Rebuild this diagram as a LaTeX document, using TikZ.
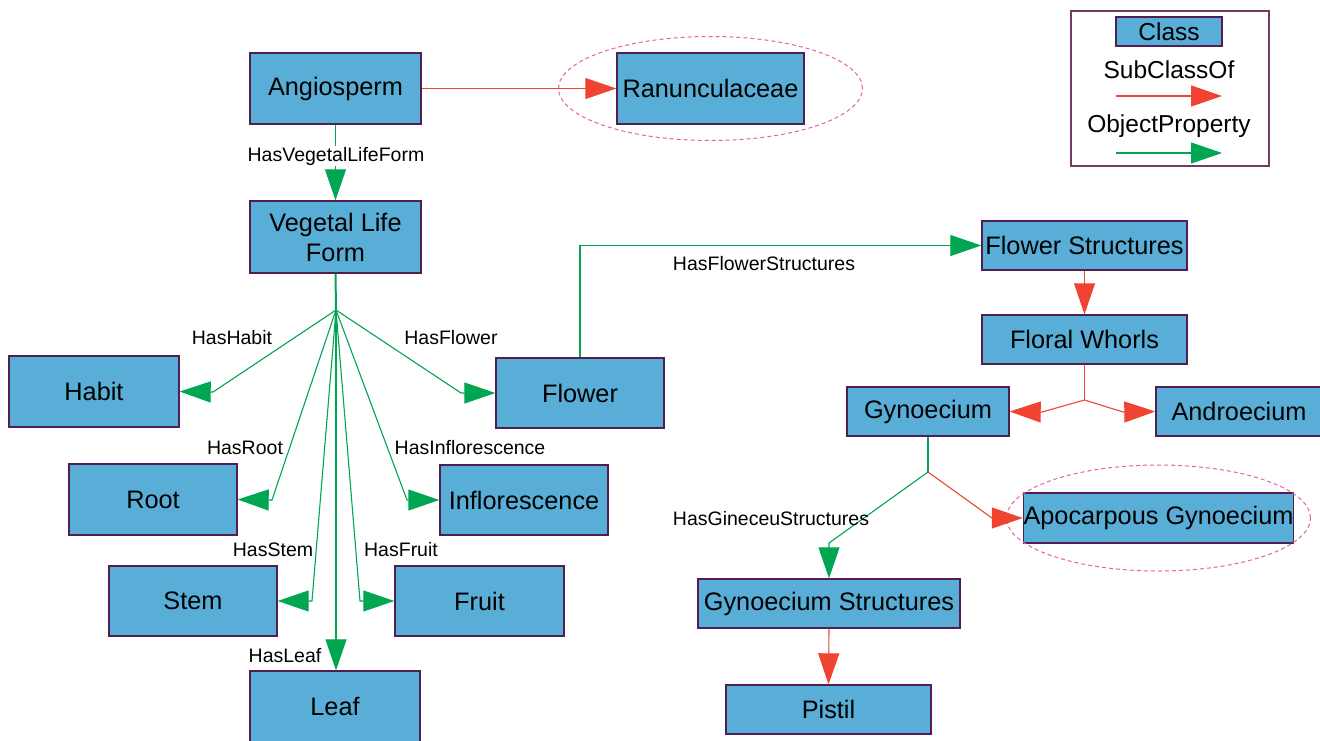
\documentclass[tikz,border=0pt]{standalone}
\usepackage{fontspec}
\setmainfont{Liberation Sans}
\usetikzlibrary{arrows.meta,shapes.geometric}
\definecolor{boxfill}{RGB}{88,174,214}
\definecolor{boxline}{RGB}{80,30,80}
\definecolor{ogreen}{RGB}{0,166,81}
\definecolor{ored}{RGB}{240,68,50}
\definecolor{epink}{RGB}{232,96,160}
\definecolor{legline}{RGB}{110,60,100}
\begin{document}
\begin{tikzpicture}[x=1pt,y=-1pt,
 cls/.style={draw=boxline, line width=1.4pt, fill=boxfill, inner sep=0pt, font=\fontsize{25.3}{30}\selectfont, align=center},
 lbl/.style={font=\fontsize{19.5}{23}\selectfont, inner sep=1pt},
 legtxt/.style={font=\fontsize{24.5}{28}\selectfont, inner sep=0pt},
 gline/.style={draw=ogreen, line width=1.1pt},
 rline/.style={draw=ored, line width=1.1pt},
 garr/.style={gline, -{Triangle[length=31pt,width=21pt]}},
 rarr/.style={rline, -{Triangle[length=31pt,width=21pt]}},
 ring/.style={draw=epink, line width=1pt, dash pattern=on 4pt off 3pt},
]
\useasboundingbox (0,0) rectangle (1320,740);

% classes
\node[cls, minimum width=171pt, minimum height=71pt] (ang) at (335.5,88.5) {Angiosperm};
\node[cls, minimum width=187pt, minimum height=71pt] (ran) at (710.5,88.5) {Ranunculaceae};
\node[cls, minimum width=171pt, minimum height=72pt] (vlf) at (335.5,237) {Vegetal Life\\Form};
\node[cls, minimum width=170pt, minimum height=71pt] (habit) at (94,391.5) {Habit};
\node[cls, minimum width=168pt, minimum height=70pt] (flower) at (580,393) {Flower};
\node[cls, minimum width=168pt, minimum height=71pt] (root) at (153,499.5) {Root};
\node[cls, minimum width=168pt, minimum height=70pt] (infl) at (524,500) {Inflorescence};
\node[cls, minimum width=168pt, minimum height=70pt] (stem) at (193,601) {Stem};
\node[cls, minimum width=169pt, minimum height=70pt] (fruit) at (479.5,601) {Fruit};
\node[cls, minimum width=170pt, minimum height=71pt] (leaf) at (335,706.5) {Leaf};
\node[cls, minimum width=205pt, minimum height=49pt] (fs) at (1084.5,245.5) {Flower Structures};
\node[cls, minimum width=205pt, minimum height=49pt] (fw) at (1084.5,339.5) {Floral Whorls};
\node[cls, minimum width=162pt, minimum height=49pt] (gyn) at (928,411.5) {Gynoecium};
\node[cls, minimum width=166pt, minimum height=49pt] (andr) at (1239,411.5) {Androecium};
\node[cls, minimum width=269pt, minimum height=50pt] (apo) at (1158.5,518) {Apocarpous Gynoecium};
\node[cls, minimum width=262pt, minimum height=49pt] (gs) at (829,603.5) {Gynoecium Structures};
\node[cls, minimum width=205pt, minimum height=49pt] (pistil) at (828.5,709.5) {Pistil};

% dashed ellipses
\draw[ring] (ran.center) ellipse [x radius=152pt, y radius=52pt];
\draw[ring] (apo.center) ellipse [x radius=152pt, y radius=53pt];

% connectors
\draw[rarr] (ang.east) -- (ran.west);
\draw[garr] (ang.south) -- (vlf.north);
\node[lbl, fill=white] (lvlf) at (336,156) {HasVegetalLifeForm};

\coordinate (b1) at (336,310);
\draw[gline, line width=2pt] (vlf.south) -- (b1);
\coordinate (kh) at (213,392);
\coordinate (kf) at (461,393);
\coordinate (kr) at (272,500);
\coordinate (ki) at (407,500);
\coordinate (ks) at (312,601);
\coordinate (kfr) at (360,601);
\draw[garr] (b1) -- (kh) -- (habit.east);
\draw[garr] (b1) -- (kf) -- (flower.west);
\draw[garr] (b1) -- (kr) -- (root.east);
\draw[garr] (b1) -- (ki) -- (infl.west);
\draw[garr] (b1) -- (ks) -- (stem.east);
\draw[garr] (b1) -- (kfr) -- (fruit.west);
\draw[garr] (b1) -- (b1 |- leaf.north);

\node[lbl] (lhabit) at (232,338) {HasHabit};
\node[lbl] (lflower) at (451,338) {HasFlower};
\node[lbl] (lroot) at (245,448) {HasRoot};
\node[lbl] (linfl) at (470,448) {HasInflorescence};
\node[lbl] (lstem) at (273,550) {HasStem};
\node[lbl] (lfruit) at (401,550) {HasFruit};
\node[lbl] (lleaf) at (285,656) {HasLeaf};

\draw[garr] (flower.north) |- (fs.west);
\node[lbl] (lfs) at (764,264) {HasFlowerStructures};
\draw[rarr] (fs.south) -- (fw.north);

\coordinate (b2) at (1084.5,400);
\draw[rline] (fw.south) -- (b2);
\coordinate (kg) at (1042,412);
\coordinate (ka) at (1123,412);
\draw[rarr] (b2) -- (kg) -- (gyn.east);
\draw[rarr] (b2) -- (ka) -- (andr.west);

\coordinate (b3) at (928,472);
\draw[gline] (gyn.south) -- (b3);
\coordinate (kgs) at (829,543);
\coordinate (kap) at (992,518);
\draw[garr] (b3) -- (kgs) -- (gs.north);
\draw[rarr] (b3) -- (kap) -- (apo.west);
\node[lbl] (lgs) at (771,519) {HasGineceuStructures};
\draw[rarr] (gs.south) -- (pistil.north);

% legend
\node[draw=legline, line width=1.2pt, minimum width=198pt, minimum height=155pt, inner sep=0pt] (leg) at (1170,88.5) {};
\node[cls, font=\fontsize{24.5}{28}\selectfont, minimum width=106pt, minimum height=29pt] (lclass) at (1169,31.5) {Class};
\node[legtxt] (lsub) at (1169,70) {SubClassOf};
\coordinate (lr1) at (1116,96);
\coordinate (lr2) at (1222,96);
\draw[rarr] (lr1) -- (lr2);
\node[legtxt] (lobj) at (1169,126) {ObjectProperty};
\coordinate (lg1) at (1116,153);
\coordinate (lg2) at (1222,153);
\draw[garr] (lg1) -- (lg2);
\end{tikzpicture}
\end{document}
